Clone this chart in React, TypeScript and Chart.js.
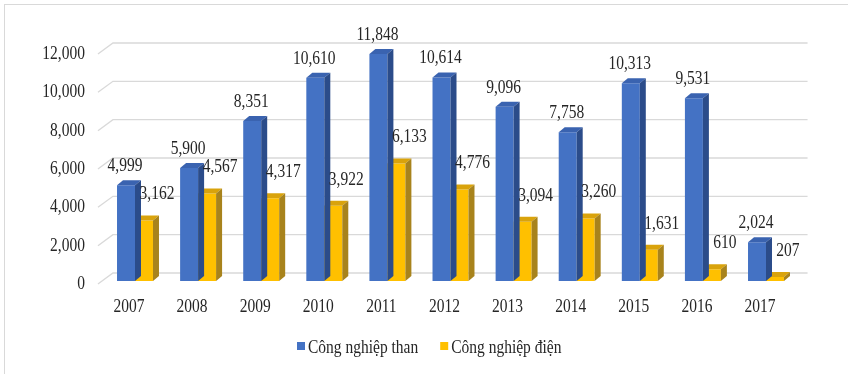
import { useEffect, useRef } from "react";
import { Chart, registerables } from "chart.js";

Chart.register(...registerables);

const years = ["2007", "2008", "2009", "2010", "2011", "2012", "2013", "2014", "2015", "2016", "2017"];
const coalValues = [4999, 5900, 8351, 10610, 11848, 10614, 9096, 7758, 10313, 9531, 2024];
const powerValues = [3162, 4567, 4317, 3922, 6133, 4776, 3094, 3260, 1631, 610, 207];
const yTicks = [0, 2000, 4000, 6000, 8000, 10000, 12000];
const seriesNames = ["Công nghiệp than", "Công nghiệp điện"];

const TEXT_FONT = '15.5px "Liberation Serif", "Times New Roman", serif';
const TEXT_COLOR = "#262626";
const GRID_COLOR = "#d9d9d9";
// the lettering is slightly tall and narrow
const TEXT_STRETCH = 1.2;

// colours of the three visible faces of each 3D column
const faces = [
  { front: "#4472C4", top: "#3A63B0", side: "#2B4C8A" },
  { front: "#FFC000", top: "#D9A30C", side: "#A8831C" },
];

// column depth and floor depth in pixels
const BAR_DX = 6;
const BAR_DY = 5;
const FLOOR_DX = 15;
const FLOOR_DY = 11;
const FRONT_DROP = 3;

const fmt = (v: number) => v.toLocaleString("en-US");

function drawText(ctx: CanvasRenderingContext2D, text: string, x: number, y: number) {
  ctx.save();
  ctx.translate(x, y);
  ctx.scale(1, TEXT_STRETCH);
  ctx.fillText(text, 0, 0);
  ctx.restore();
}

const bar3d = {
  id: "bar3d",
  beforeDraw(chart: any) {
    const { ctx } = chart;
    ctx.save();
    ctx.fillStyle = "#ffffff";
    ctx.fillRect(0, 0, chart.width, chart.height);
    ctx.strokeStyle = "#d9d9d9";
    ctx.lineWidth = 1;
    ctx.strokeRect(4.5, 4.5, chart.width + 20, chart.height + 20);
    ctx.restore();
  },
  beforeDatasetsDraw(chart: any) {
    const { ctx, chartArea } = chart;
    const x = chart.scales.x;
    const y = chart.scales.y;
    const frontX = chartArea.left - 5.5;
    const backX = frontX + FLOOR_DX;
    const rightX = chartArea.right + 10;

    ctx.save();
    ctx.strokeStyle = GRID_COLOR;
    ctx.lineWidth = 1.3;
    ctx.font = TEXT_FONT;
    ctx.fillStyle = TEXT_COLOR;
    ctx.textAlign = "right";
    ctx.textBaseline = "middle";
    yTicks.forEach((v) => {
      const yf = y.getPixelForValue(v) + FRONT_DROP;
      const yb = yf - FLOOR_DY;
      ctx.beginPath();
      ctx.moveTo(frontX, yf);
      ctx.lineTo(backX, yb);
      ctx.lineTo(rightX, yb);
      ctx.stroke();
      drawText(ctx, fmt(v), frontX - 13, yf);
    });

    // category labels along the front edge of the floor
    ctx.textAlign = "center";
    years.forEach((yr, i) => {
      drawText(ctx, yr, x.getPixelForValue(i) - 6, chartArea.bottom + 26);
    });

    // legend
    let lx = 297;
    const ly = chartArea.bottom + 66;
    ctx.textAlign = "left";
    seriesNames.forEach((name, i) => {
      ctx.fillStyle = faces[i].front;
      ctx.fillRect(lx, ly - 5, 8, 8);
      ctx.fillStyle = TEXT_COLOR;
      drawText(ctx, name, lx + 11, ly + 1);
      lx += 11 + ctx.measureText(name).width + 22;
    });
    ctx.restore();
  },
  afterDatasetDraw(chart: any, args: any) {
    const { ctx } = chart;
    const meta = chart.getDatasetMeta(args.index);
    const f = faces[args.index];
    ctx.save();
    meta.data.forEach((bar: any) => {
      const { x: cx, y: top, base, width } = bar.getProps(["x", "y", "base", "width"], true);
      const l = cx - width / 2;
      const r = cx + width / 2;
      ctx.fillStyle = f.top;
      ctx.beginPath();
      ctx.moveTo(l, top);
      ctx.lineTo(l + BAR_DX, top - BAR_DY);
      ctx.lineTo(r + BAR_DX, top - BAR_DY);
      ctx.lineTo(r, top);
      ctx.closePath();
      ctx.fill();
      ctx.fillStyle = f.side;
      ctx.beginPath();
      ctx.moveTo(r, top);
      ctx.lineTo(r + BAR_DX, top - BAR_DY);
      ctx.lineTo(r + BAR_DX, base - BAR_DY);
      ctx.lineTo(r, base);
      ctx.closePath();
      ctx.fill();
    });
    ctx.restore();
  },
  afterDatasetsDraw(chart: any) {
    const { ctx } = chart;
    ctx.save();
    ctx.font = TEXT_FONT;
    ctx.fillStyle = TEXT_COLOR;
    ctx.textAlign = "center";
    ctx.textBaseline = "middle";
    chart.data.datasets.forEach((ds: any, di: number) => {
      const meta = chart.getDatasetMeta(di);
      meta.data.forEach((bar: any, i: number) => {
        const { x: cx, y: top } = bar.getProps(["x", "y"], true);
        const dx = di === 0 ? -1 : 13;
        const dy = di === 0 ? 19 : 26;
        drawText(ctx, fmt(ds.data[i]), cx + dx, top - dy);
      });
    });
    ctx.restore();
  },
};

export default function App() {
  const canvasRef = useRef<HTMLCanvasElement | null>(null);

  useEffect(() => {
    if (!canvasRef.current) return;
    const chart = new Chart(canvasRef.current, {
      type: "bar",
      data: {
        labels: years,
        datasets: [
          { label: seriesNames[0], data: coalValues, backgroundColor: faces[0].front, borderWidth: 0 },
          { label: seriesNames[1], data: powerValues, backgroundColor: faces[1].front, borderWidth: 0 },
        ],
      },
      options: {
        responsive: false,
        animation: false,
        devicePixelRatio: 1,
        layout: { padding: { left: 103.45, right: 50.45, top: 51, bottom: 93 } },
        datasets: { bar: { categoryPercentage: 0.57, barPercentage: 1 } },
        scales: {
          x: { display: false, offset: true },
          y: { display: false, min: 0, max: 12000 },
        },
        plugins: {
          legend: { display: false },
          tooltip: { enabled: false },
        },
      },
      plugins: [bar3d],
    });
    return () => chart.destroy();
  }, []);

  return (
    <div style={{ position: "fixed", left: 0, top: 0, width: 848, height: 374, background: "#fff" }}>
      <canvas ref={canvasRef} width={848} height={374} />
    </div>
  );
}
